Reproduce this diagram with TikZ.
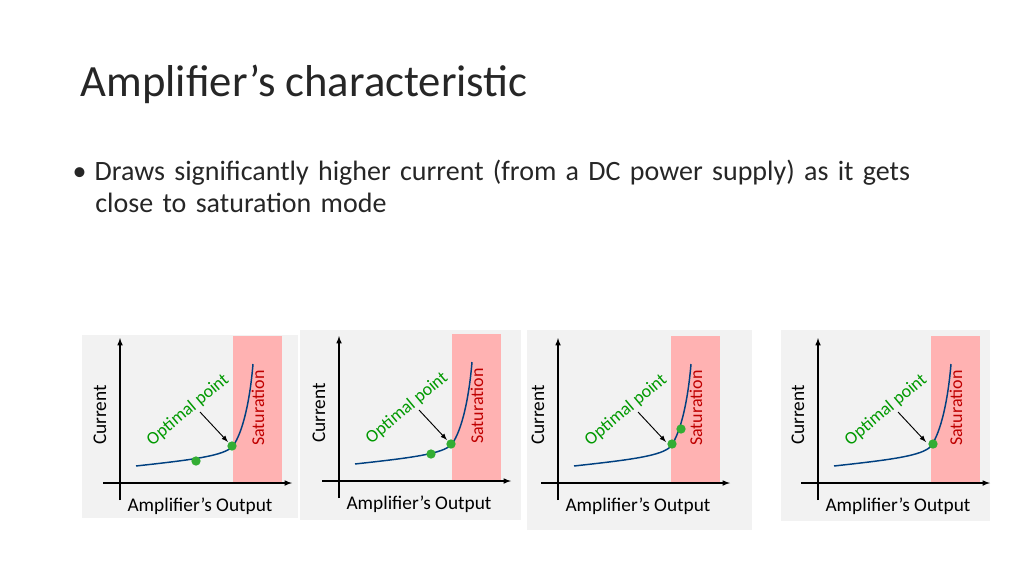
\documentclass[tikz,border=0pt]{standalone}
\usepackage{fontspec}
\setmainfont{Carlito}
\begin{document}
\begin{tikzpicture}[x=0.75pt,y=-0.75pt,
  bg/.style={fill=black!5,draw=none},
  sat/.style={fill=red!30!white,draw=none},
  ax/.style={line width=0.9pt,-latex},
  crv/.style={line width=1.1pt,color=blue!50!cyan!50!black},
  dot/.style={circle,fill=green!60!black!80,inner sep=0pt,minimum size=7pt},
  lab/.style={font=\fontsize{14.5}{16}\selectfont},
  slab/.style={font=\fontsize{13.5}{15}\selectfont}]
\useasboundingbox (0,0) rectangle (1024,576);
\node[anchor=west,font=\fontsize{33.5}{38}\selectfont,text=black!85] (title) at (76,84) {Amplifier’s characteristic};
\node[anchor=north west,align=left,font=\fontsize{21}{24.5}\selectfont,text=black!85,text width=1000] (body) at (68,155) {•\hspace{6pt}Draws significantly higher current (from a DC power supply) as it gets\\\hspace{17pt}close to saturation mode};
\fill[bg] (82,335) rectangle (298,518);
\fill[bg] (300,330) rectangle (521,520);
\fill[bg] (527,330) rectangle (752,530);
\fill[bg] (781,330) rectangle (990,521);
\newcommand{\mypanel}[3]{%
\begin{scope}[shift={(#1,#2)}]
\fill[sat] (233,336) rectangle (282,483);
\draw[ax] (120,500) -- (120,338);
\draw[ax] (103,483) -- (292,483);
\draw[crv] (136,466) .. controls (190,460) and (225,456) .. (233,446) .. controls (243,432) and (250,400) .. (253,364);
\node[lab,rotate=90] (cur) at (100,415) {Current};
\node[lab] (out) at (200,506) {Amplifier’s Output};
\node[slab,rotate=90,text=red!75!black] (s) at (258,408) {Saturation};
\node[slab,rotate=40,text=green!60!black] (op) at (188,410) {Optimal point};
\coordinate (tip) at (228,442);
\draw[-latex,line width=0.7pt] (200,412) -- (tip);
#3
\end{scope}}
\mypanel{0}{0}{\node[dot] (a1) at (196,461) {}; \node[dot] (a2) at (232,446) {};}
\mypanel{219}{-2}{\node[dot] (b1) at (212,456) {}; \node[dot] (b2) at (232,446) {};}
\mypanel{438}{0}{\node[dot] (c1) at (234,444) {}; \node[dot] (c2) at (243,429) {};}
\mypanel{698}{0}{\node[dot] (d1) at (235,444) {};}
\end{tikzpicture}
\end{document}
